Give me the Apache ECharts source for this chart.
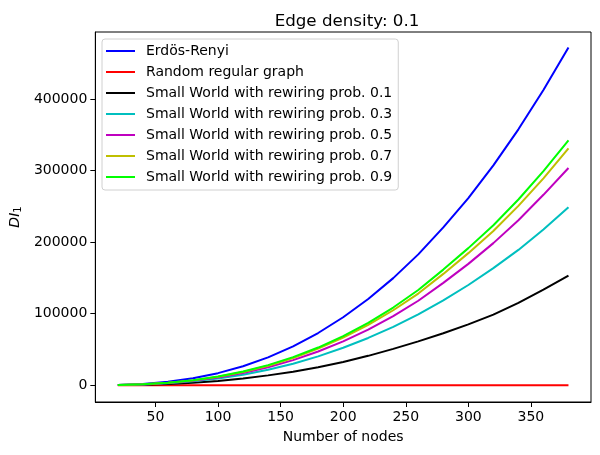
<!DOCTYPE html>
<html>
<head>
<meta charset="utf-8">
<script src="https://cdn.jsdelivr.net/npm/echarts@6/dist/echarts.min.js"></script>
<style>html,body{margin:0;padding:0;background:#fff}#c{width:600px;height:455px}</style>
</head>
<body>
<div id="c"></div>
<script>
const nodes = [20,40,60,80,100,120,140,160,180,200,220,240,260,280,300,320,340,360,380];
const erdosRenyi = [300,1700,4700,9600,16800,26500,38900,54300,72900,94900,120400,149600,182800,220500,261400,307200,357500,412400,472000];
const randomRegular = [0,0,0,0,0,0,0,0,0,0,0,0,0,0,0,0,0,0,0];
const sw01 = [110,620,1700,3450,6000,9400,13700,18900,25100,32400,41000,50700,61200,72500,85000,98500,115000,133500,153000];
const sw03 = [170,960,2640,5350,9300,14600,21500,29900,40200,52300,66000,81500,99000,118500,140000,163500,189000,217500,248500];
const sw05 = [195,1100,3030,6200,10850,17100,25100,35000,47000,61200,77600,96500,118000,143000,169500,198500,230500,266000,303500];
const sw07 = [210,1190,3290,6720,11760,18550,27200,38000,51000,66400,84300,104700,128000,155500,184500,215500,250500,289000,331000];
const sw09 = [220,1230,3380,6900,12100,19100,28000,39200,52600,68500,87000,108500,133000,161500,191500,223500,259500,299000,342000];
const xTicks = [50,100,150,200,250,300,350];
const yTicks = [0,100000,200000,300000,400000];

const seriesDefs = [
  {name:'Erdös-Renyi', data:erdosRenyi, color:'#0000ff'},
  {name:'Random regular graph', data:randomRegular, color:'#ff0000'},
  {name:'Small World with rewiring prob. 0.1', data:sw01, color:'#000000'},
  {name:'Small World with rewiring prob. 0.3', data:sw03, color:'#00bfbf'},
  {name:'Small World with rewiring prob. 0.5', data:sw05, color:'#bf00bf'},
  {name:'Small World with rewiring prob. 0.7', data:sw07, color:'#bfbf00'},
  {name:'Small World with rewiring prob. 0.9', data:sw09, color:'#00ff00'}
];

const font = 'DejaVu Sans';
const chart = echarts.init(document.getElementById('c'), null, {renderer:'canvas'});
chart.setOption({
  animation:false,
  backgroundColor:'#fff',
  textStyle:{fontFamily:font},
  title:{text:'Edge density: 0.1', left:342, top:8, textAlign:'center',
    textStyle:{fontFamily:font, fontSize:16.7, fontWeight:'normal', color:'#000'}},
  grid:{left:94, right:9, top:32, bottom:53, show:true, borderColor:'#000', borderWidth:1, backgroundColor:'transparent'},
  legend:{
    orient:'vertical', left:102, top:39, padding:[4,6,5,4], itemGap:5,
    itemWidth:29, itemHeight:2, icon:'rect',
    backgroundColor:'rgba(255,255,255,0.8)', borderColor:'#d0d0d0', borderWidth:1, borderRadius:3,
    textStyle:{fontFamily:font, fontSize:14, color:'#000', lineHeight:16, padding:[0,0,0,6]},
    data: seriesDefs.map(s=>s.name)
  },
  xAxis:{
    type:'value', min:2, max:398,
    name:'Number of nodes', nameLocation:'middle', nameGap:28,
    nameTextStyle:{fontFamily:font, fontSize:14, color:'#000'},
    axisLine:{show:true, onZero:false, lineStyle:{color:'#000', width:1}},
    axisTick:{show:true, inside:false, length:5, lineStyle:{color:'#000'}, customValues:xTicks},
    axisLabel:{fontFamily:font, fontSize:14, color:'#000', margin:8, customValues:xTicks},
    splitLine:{show:false}
  },
  yAxis:{
    type:'value', min:-23500, max:493500,
    name:'{a|DI}{b|1}', nameLocation:'middle', nameGap:66, nameRotate:90,
    nameTextStyle:{rich:{a:{fontFamily:font, fontSize:14, fontStyle:'italic', color:'#000'},
                         b:{fontFamily:font, fontSize:10, color:'#000', padding:[6,0,0,0]}}},
    axisLine:{show:true, onZero:false, lineStyle:{color:'#000', width:1}},
    axisTick:{show:true, inside:false, length:5, lineStyle:{color:'#000'}, customValues:yTicks},
    axisLabel:{fontFamily:font, fontSize:14, color:'#000', margin:8, customValues:yTicks,
      formatter:function(v){return String(v);}},
    splitLine:{show:false}
  },
  series: seriesDefs.map(s=>({
    name:s.name, type:'line', showSymbol:false, symbol:'none',
    data: nodes.map((x,i)=>[x, s.data[i]]),
    lineStyle:{color:s.color, width:2}, itemStyle:{color:s.color}
  }))
});
</script>
</body>
</html>
